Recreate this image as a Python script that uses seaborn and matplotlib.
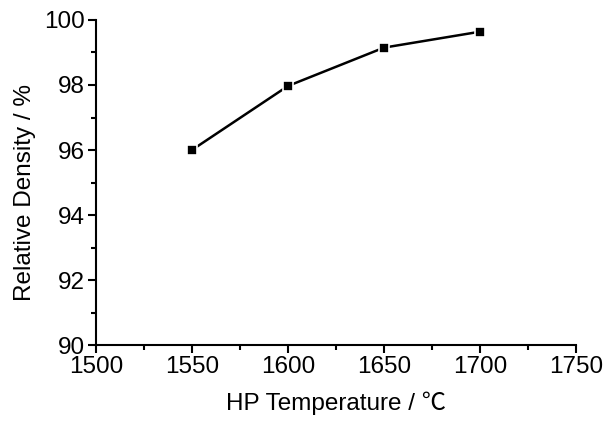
import numpy as np
import pandas as pd
import seaborn as sns
import matplotlib
matplotlib.use('Agg')
import matplotlib.pyplot as plt
from matplotlib.ticker import MultipleLocator

# data
temperature = [1550, 1600, 1650, 1700]
density = [96.0, 97.97, 99.15, 99.64]

df = pd.DataFrame({'T': temperature, 'rho': density})

sns.set_style('ticks')
plt.rcParams['font.family'] = ['Liberation Sans', 'Noto Sans CJK SC', 'DejaVu Sans']
plt.rcParams['axes.labelcolor'] = 'black'
plt.rcParams['text.color'] = 'black'

fig = plt.figure(figsize=(6.07, 4.21), dpi=100)
ax = fig.add_axes([0.158, 0.1805, 0.791, 0.772])

sns.lineplot(data=df, x='T', y='rho', ax=ax, color='black', linewidth=1.8,
             marker='s', markersize=6.5, markerfacecolor='black',
             markeredgecolor='white', markeredgewidth=1.2)

ax.set_xlim(1500, 1750)
ax.set_ylim(90, 100)
ax.xaxis.set_major_locator(MultipleLocator(50))
ax.xaxis.set_minor_locator(MultipleLocator(25))
ax.yaxis.set_major_locator(MultipleLocator(2))
ax.yaxis.set_minor_locator(MultipleLocator(1))

for s in ['top', 'right']:
    ax.spines[s].set_visible(False)
for s in ['left', 'bottom']:
    ax.spines[s].set_linewidth(1.5)
    ax.spines[s].set_color('black')

ax.tick_params(which='major', direction='out', length=6, width=1.5,
               labelsize=17.5, colors='black', labelcolor='black', pad=2)
ax.tick_params(which='minor', direction='out', length=3.5, width=1.5, colors='black')

ax.set_xlabel('HP Temperature / ℃', fontsize=17.5, labelpad=10, color='black')
ax.set_ylabel('Relative Density / %', fontsize=17.5, labelpad=8, color='black')
ax.yaxis.set_label_coords(-0.125, 0.47)

fig.savefig('out.png', dpi=100)
